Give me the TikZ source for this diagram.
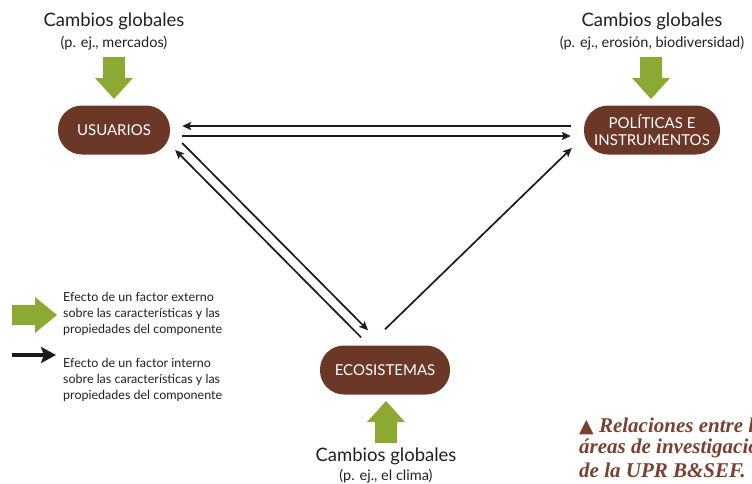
\documentclass[tikz,border=0pt]{standalone}
\usepackage{fontspec}
\setmainfont{Lato}
\newfontfamily\capfont{Liberation Serif}
\newfontfamily\symfont{DejaVu Sans}
\usetikzlibrary{arrows.meta,calc}
\definecolor{nodebrown}{HTML}{6B3828}
\definecolor{leaf}{HTML}{8CA933}
\definecolor{ink}{HTML}{1C1A1C}
\definecolor{captc}{HTML}{7A4030}
\definecolor{txt}{HTML}{231F20}
\begin{document}
\begin{tikzpicture}[x=1pt,y=-1pt,
  comp/.style={fill=nodebrown, text=white, rounded corners=24pt, minimum height=49pt,
    font=\fontsize{15}{17.5}\selectfont, align=center, inner sep=2pt},
  conn/.style={draw=ink, line width=1.7pt, -{Stealth[length=9pt,width=8pt,inset=2pt]}},
  bigtitle/.style={text=txt, font=\fontsize{18.5}{20}\selectfont, inner sep=0pt},
  subtitle/.style={text=txt, font=\fontsize{14.5}{16}\selectfont, inner sep=0pt},
  legtext/.style={text=txt, font=\fontsize{12.5}{16}\selectfont, align=left, anchor=west, inner sep=0pt},
  captext/.style={text=captc, font=\capfont\bfseries\itshape\fontsize{21}{23}\selectfont, anchor=west, inner sep=0pt},
  greenarrow/.style={fill=leaf}
]
\useasboundingbox (0,0) rectangle (752,483);
\begin{scope}
\clip (0,0) rectangle (752,483);

% components
\node[comp, minimum width=112pt] (usu) at (114,130) {USUARIOS};
\node[comp, minimum width=136pt] (pol) at (652,130) {POLÍTICAS E\\[-1pt]INSTRUMENTOS};
\node[comp, minimum width=130pt] (eco) at (385,370) {ECOSISTEMAS};

% titles
\node[bigtitle] (t1) at (114,21) {Cambios globales};
\node[subtitle] (s1) at (114,43) {(p. ej., mercados)};
\node[bigtitle] (t2) at (652,21) {Cambios globales};
\node[subtitle] (s2) at (652,43) {(p. ej., erosión, biodiversidad)};
\node[bigtitle] (t3) at (386,456) {Cambios globales};
\node[subtitle] (s3) at (386,476) {(p. ej., el clima)};

% green block arrows
\fill[greenarrow] (103,57) -- (125,57) -- (125,78) -- (133,78) -- (114,99) -- (95,78) -- (103,78) -- cycle;
\fill[greenarrow] (640,57) -- (662,57) -- (662,78) -- (670,78) -- (651,99) -- (632,78) -- (640,78) -- cycle;
\fill[greenarrow] (375,443) -- (397,443) -- (397,422) -- (405,422) -- (386,401) -- (367,422) -- (375,422) -- cycle;

% connectors
\draw[conn] ([shift={(-13,-4)}]pol.west) -- ([shift={(12,-4)}]usu.east);
\draw[conn] ([shift={(12,6)}]usu.east) -- ([shift={(-13,6)}]pol.west);
\draw[conn] ([shift={(12,13)}]usu.east) -- ([shift={(-17,-15)}]eco.north);
\draw[conn] ([shift={(-24,-8)}]eco.north) -- ([shift={(5,20)}]usu.east);
\draw[conn] ([shift={(0,-16)}]eco.north) -- ([shift={(-12,18)}]pol.west);

% legend
\fill[greenarrow] (12,305) -- (35,305) -- (35,297) -- (57,315) -- (35,333) -- (35,325) -- (12,325) -- cycle;
\node[legtext] (l1) at (63,314) {Efecto de un factor externo\\sobre las características y las\\propiedades del componente};
\coordinate (lb0) at (12,355);
\coordinate (lb1) at (56,355);
\draw[draw=ink, line width=4.5pt, -{Stealth[length=15pt,width=16pt,inset=3pt]}] (lb0) -- (lb1);
\node[legtext] (l2) at (63,380) {Efecto de un factor interno\\sobre las características y las\\propiedades del componente};

% caption
\node[captext] (c1) at (579,426) {{\symfont\mdseries\upshape\fontsize{19}{20}\selectfont ▲} Relaciones entre las};
\node[captext] (c2) at (579,448) {áreas de investigación};
\node[captext] (c3) at (579,470) {de la UPR B\&SEF.};
\end{scope}
\end{tikzpicture}
\end{document}
